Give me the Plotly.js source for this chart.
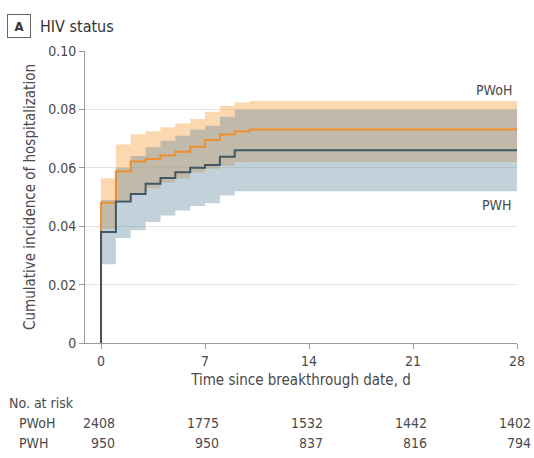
<!DOCTYPE html>
<html>
<head>
<meta charset="utf-8">
<script src="https://cdn.plot.ly/plotly-3.0.1.min.js"></script>
<style>html,body{margin:0;padding:0;background:#fff;}#chart{width:534px;height:458px;}</style>
</head>
<body>
<div id="chart"></div>
<script>
// ---- data ----
const pwohTime = [0, 1, 2, 3, 4, 5, 6, 7, 8, 9, 10, 28];
const pwohEst  = [0.048, 0.0587, 0.0622, 0.063, 0.0642, 0.0655, 0.0672, 0.0695, 0.0714, 0.0724, 0.0731, 0.0731];
const pwohLow  = [0.039, 0.049, 0.051, 0.053, 0.055, 0.0563, 0.0585, 0.0597, 0.0607, 0.0619, 0.062, 0.062];
const pwohHigh = [0.0564, 0.068, 0.0715, 0.0725, 0.0739, 0.0752, 0.0767, 0.0792, 0.0812, 0.0824, 0.0829, 0.0829];

const pwhTime = [0, 1, 2, 3, 4, 5, 6, 7, 8, 9, 28];
const pwhEst  = [0.038, 0.0485, 0.051, 0.0545, 0.0565, 0.0585, 0.060, 0.061, 0.0638, 0.066, 0.066];
const pwhLow  = [0.027, 0.036, 0.0386, 0.0414, 0.0437, 0.0454, 0.0469, 0.0479, 0.0505, 0.052, 0.052];
const pwhHigh = [0.049, 0.060, 0.064, 0.067, 0.0693, 0.071, 0.073, 0.0744, 0.0775, 0.080, 0.080];

const xTicks = [0, 7, 14, 21, 28];
const yTicks = [0, 0.02, 0.04, 0.06, 0.08, 0.10];
const yTickLabels = ["0", "0.02", "0.04", "0.06", "0.08", "0.10"];
const riskGroups = ["PWoH", "PWH"];
const riskPWoH = [2408, 1775, 1532, 1442, 1402];
const riskPWH  = [950, 950, 837, 816, 794];

// ---- layout geometry ----
const W = 534, H = 458;
const L = 85, R = 17, T = 51, B = 114.5;
const plotW = W - L - R, plotH = H - T - B;
const px = p => (p - L) / plotW;
const py = p => (H - B - p) / plotH;

const FONT = "Liberation Sans Narrow, DejaVu Sans Condensed, sans-serif";
const TXT = "#4a4a4a";

const orange = "#ee8f2d", dark = "#3f5864";

const traces = [
  {x: pwohTime, y: pwohLow, mode: "lines", line: {width: 0, shape: "hv"}, hoverinfo: "skip", showlegend: false},
  {x: pwohTime, y: pwohHigh, mode: "lines", line: {width: 0, shape: "hv"}, fill: "tonexty",
   fillcolor: "rgba(250,178,100,0.5)", hoverinfo: "skip", showlegend: false},
  {x: pwhTime, y: pwhLow, mode: "lines", line: {width: 0, shape: "hv"}, hoverinfo: "skip", showlegend: false},
  {x: pwhTime, y: pwhHigh, mode: "lines", line: {width: 0, shape: "hv"}, fill: "tonexty",
   fillcolor: "rgba(105,142,162,0.4)", hoverinfo: "skip", showlegend: false},
  {x: [0].concat(pwohTime), y: [0].concat(pwohEst), mode: "lines", name: "PWoH",
   line: {color: orange, width: 2, shape: "hv"}, showlegend: false},
  {x: [0].concat(pwhTime), y: [0].concat(pwhEst), mode: "lines", name: "PWH",
   line: {color: dark, width: 2, shape: "hv"}, showlegend: false}
];

const ann = [];
// Panel label
ann.push({xref: "paper", yref: "paper", x: px(18.5), y: py(26), text: "<b>A</b>", showarrow: false,
  font: {family: FONT, size: 13, color: "#333"}, bordercolor: "#666", borderwidth: 1, borderpad: 1,
  bgcolor: "#fff", xanchor: "center", yanchor: "middle", width: 20, height: 20});
ann.push({xref: "paper", yref: "paper", x: px(38), y: py(26), text: "HIV status", showarrow: false,
  font: {family: FONT, size: 16, color: "#333"}, xanchor: "left", yanchor: "middle"});
// Curve labels
ann.push({xref: "paper", yref: "paper", x: px(514), y: py(90), text: "PWoH", showarrow: false,
  font: {family: FONT, size: 14, color: TXT}, xanchor: "right", yanchor: "middle"});
ann.push({xref: "paper", yref: "paper", x: px(514), y: py(205), text: "PWH", showarrow: false,
  font: {family: FONT, size: 14, color: TXT}, xanchor: "right", yanchor: "middle"});
// Risk table
ann.push({xref: "paper", yref: "paper", x: px(7), y: py(404), text: "No. at risk", showarrow: false,
  font: {family: FONT, size: 14, color: TXT}, xanchor: "left", yanchor: "middle"});
const rowY = [424, 444];
const rows = [riskPWoH, riskPWH];
riskGroups.forEach((g, i) => {
  ann.push({xref: "paper", yref: "paper", x: px(17), y: py(rowY[i]), text: g, showarrow: false,
    font: {family: FONT, size: 14, color: TXT}, xanchor: "left", yanchor: "middle"});
  rows[i].forEach((v, j) => {
    ann.push({xref: "x", yref: "paper", x: xTicks[j], xshift: 16, y: py(rowY[i]), text: String(v),
      showarrow: false, font: {family: FONT, size: 14, color: TXT}, xanchor: "right", yanchor: "middle"});
  });
});

const layout = {
  width: W, height: H,
  margin: {l: L, r: R, t: T, b: B, pad: 0},
  paper_bgcolor: "#fff", plot_bgcolor: "#fff",
  showlegend: false,
  font: {family: FONT, size: 14, color: TXT},
  xaxis: {
    range: [-1.08, 28], tickmode: "array", tickvals: xTicks, ticktext: xTicks.map(String),
    showgrid: false, zeroline: false, showline: true, linecolor: "#9a9a9a", linewidth: 1,
    ticks: "outside", ticklen: 5, tickcolor: "#9a9a9a", tickfont: {family: FONT, size: 14, color: TXT},
    title: {text: "Time since breakthrough date, d", font: {family: FONT, size: 15, color: TXT}, standoff: 6},
    fixedrange: true
  },
  yaxis: {
    range: [0, 0.10], tickmode: "array", tickvals: yTicks, ticktext: yTickLabels,
    showgrid: true, gridcolor: "#e4e4e4", gridwidth: 1, zeroline: false,
    showline: true, linecolor: "#9a9a9a", linewidth: 1,
    ticks: "outside", ticklen: 5, tickcolor: "#9a9a9a", tickfont: {family: FONT, size: 14, color: TXT},
    title: {text: "Cumulative incidence of hospitalization", font: {family: FONT, size: 15, color: TXT}, standoff: 8},
    fixedrange: true
  },
  annotations: ann
};

Plotly.newPlot("chart", traces, layout, {displayModeBar: false, staticPlot: true});
</script>
</body>
</html>
